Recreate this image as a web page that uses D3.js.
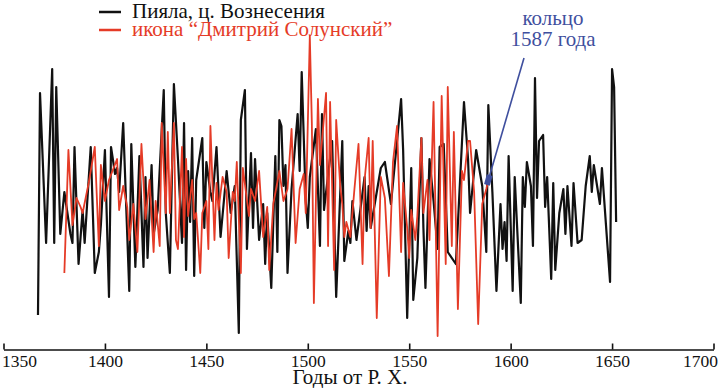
<!DOCTYPE html>
<html>
<head>
<meta charset="utf-8">
<script src="https://cdn.jsdelivr.net/npm/d3@7"></script>
<style>
    body { margin: 0; background: #fff; }
    svg { display: block; font-family: "Liberation Serif", "Times New Roman", serif; }
</style>
</head>
<body>
<script>
// Пияла, ц. Вознесения (black)
var blackYears = [1367, 1368, 1371, 1374, 1375, 1376, 1378, 1380, 1383, 1384, 1385, 1387, 1389, 1390, 1393, 1395, 1397, 1398, 1400,
    1402, 1403, 1405, 1406, 1407, 1409, 1412, 1413, 1415, 1417, 1419, 1420, 1421, 1423, 1424, 1426, 1429, 1430, 1432, 1434, 1436,
    1438, 1439, 1440, 1441, 1442, 1443, 1444, 1445, 1448, 1449, 1450, 1452, 1453, 1455, 1457, 1460, 1462, 1464, 1466, 1467, 1469,
    1470, 1472, 1473, 1474, 1476, 1478, 1479, 1480, 1482, 1484, 1485, 1486, 1487, 1488, 1489, 1490, 1492, 1495, 1496, 1497, 1499,
    1500, 1501, 1504, 1506, 1507, 1508, 1512, 1514, 1517, 1518, 1520, 1521, 1522, 1524, 1528, 1529, 1530, 1531, 1536, 1538, 1541,
    1546, 1547, 1549, 1551, 1552, 1554, 1556, 1557, 1558, 1560, 1562, 1564, 1565, 1567, 1569, 1573, 1577, 1579, 1580, 1583, 1586,
    1588, 1589, 1591, 1593, 1595, 1596, 1597, 1598, 1599, 1601, 1602, 1605, 1606, 1607, 1608, 1610, 1611, 1612, 1613, 1614, 1616,
    1617, 1618, 1620, 1621, 1622, 1624, 1626, 1627, 1628, 1630, 1631, 1633, 1635, 1637, 1639, 1640, 1641, 1644, 1645, 1649, 1650,
    1651, 1652];
var blackValues = [10, 84, 34, 92, 34, 86, 37, 51, 37, 34, 66, 27, 45, 34, 66, 24, 31, 40, 65,
    16, 66, 57, 59, 51, 74, 18, 67, 26, 63, 26, 56, 29, 60, 37, 45, 85, 44, 24, 87, 62,
    34, 74, 25, 58, 41, 69, 23, 55, 69, 39, 61, 51, 48, 66, 36, 58, 44, 53, 4, 75, 85,
    32, 64, 39, 62, 35, 47, 27, 44, 19, 63, 31, 75, 73, 53, 60, 24, 52, 77, 58, 91, 48,
    39, 56, 72, 33, 77, 45, 68, 16, 68, 28, 38, 34, 48, 35, 56, 38, 53, 39, 59, 61, 47,
    82, 65, 9, 59, 15, 29, 69, 39, 19, 62, 48, 32, 66, 67, 31, 27, 81, 62, 44, 65, 53,
    31, 80, 51, 18, 47, 32, 41, 28, 63, 18, 56, 14, 56, 46, 61, 53, 33, 89, 49, 68, 70,
    46, 56, 22, 54, 25, 44, 52, 37, 53, 33, 54, 34, 35, 53, 63, 51, 60, 47, 59, 21, 92,
    86, 41];

// икона "Дмитрий Солунский" (red)
var redYears = [1380, 1382, 1384, 1386, 1388, 1389, 1392, 1395, 1397, 1398, 1400, 1402, 1406, 1407, 1409, 1411, 1412, 1414, 1416,
    1418, 1420, 1422, 1424, 1425, 1427, 1428, 1430, 1431, 1432, 1434, 1435, 1436, 1438, 1439, 1440, 1441, 1443, 1444, 1445, 1447,
    1448, 1450, 1451, 1452, 1454, 1455, 1456, 1458, 1460, 1461, 1463, 1464, 1465, 1467, 1468, 1471, 1472, 1474, 1476, 1478, 1480,
    1481, 1483, 1486, 1488, 1490, 1492, 1494, 1496, 1498, 1499, 1501, 1502, 1503, 1505, 1506, 1509, 1510, 1511, 1513, 1514, 1516,
    1517, 1518, 1519, 1521, 1523, 1525, 1527, 1528, 1530, 1531, 1532, 1534, 1536, 1538, 1540, 1542, 1544, 1546, 1547, 1549, 1550,
    1551, 1553, 1554, 1556, 1557, 1559, 1560, 1562, 1564, 1566, 1568, 1569, 1571, 1572, 1574, 1576, 1577, 1579, 1580, 1582, 1584,
    1586, 1588, 1589];
var redValues = [24, 65, 40, 49, 46, 44, 54, 66, 33, 60, 48, 55, 62, 45, 53, 46, 35, 47, 31,
    67, 42, 55, 31, 48, 33, 74, 44, 71, 44, 74, 35, 32, 66, 36, 62, 43, 55, 42, 44, 24,
    44, 48, 32, 73, 35, 54, 45, 56, 51, 29, 51, 48, 61, 24, 59, 43, 52, 48, 58, 36, 46,
    25, 47, 58, 48, 52, 72, 34, 52, 57, 44, 103, 74, 14, 82, 60, 84, 33, 81, 25, 75, 53,
    47, 36, 41, 36, 52, 67, 27, 55, 69, 39, 68, 9, 56, 49, 23, 61, 73, 31, 54, 39, 29,
    45, 35, 43, 69, 44, 55, 35, 81, 3, 83, 27, 86, 33, 71, 12, 58, 55, 68, 68, 51, 7,
    47, 52, 55];

var tickYears = [1350, 1400, 1450, 1500, 1550, 1600, 1650, 1700];
var legendLabels = ["Пияла,  ц. Вознесения", "икона “Дмитрий Солунский”"];
var legendColors = ["#111111", "#e53b27"];
var noteLines = ["кольцо", "1587 года"];

function init() {
    var w = 718;
    var h = 388;
    var blue = "#3f4f9e";

    var black = blackYears.map(function (d, i) { return { year: d, value: blackValues[i] }; });
    var red = redYears.map(function (d, i) { return { year: d, value: redValues[i] }; });

    var x = d3.scaleLinear()
        .domain([1350, 1700])
        .range([3.5, 713.5]);

    var y = d3.scaleLinear()
        .domain([0, 100])
        .range([345, 45]);

    var line = d3.line()
        .x(function (d) { return x(d.year); })
        .y(function (d) { return y(d.value); });

    var svg = d3.select("body")
        .append("svg")
        .attr("width", w)
        .attr("height", h);

    // series
    svg.append("path")
        .datum(black)
        .attr("fill", "none")
        .attr("stroke", legendColors[0])
        .attr("stroke-width", 2.2)
        .attr("stroke-linejoin", "round")
        .attr("d", line);

    svg.append("path")
        .datum(red)
        .attr("fill", "none")
        .attr("stroke", legendColors[1])
        .attr("stroke-width", 1.8)
        .attr("stroke-linejoin", "round")
        .attr("d", line);

    // x axis, ticks pointing up
    var axis = svg.append("g")
        .attr("transform", "translate(0,349.5)")
        .call(d3.axisBottom(x)
            .tickValues(tickYears)
            .tickFormat(d3.format("d"))
            .tickSizeInner(-6)
            .tickSizeOuter(0));

    axis.select(".domain").attr("stroke", "#111").attr("stroke-width", 1.6);
    axis.selectAll(".tick line").attr("stroke", "#111").attr("stroke-width", 1.6);
    axis.selectAll(".tick text")
        .attr("font-family", "Liberation Serif, serif")
        .attr("font-size", 17.5)
        .attr("fill", "#111")
        .attr("y", 17)
        .attr("dy", null);
    axis.selectAll(".tick text")
        .filter(function (d) { return d === 1350; })
        .attr("text-anchor", "start")
        .attr("x", -2);
    axis.selectAll(".tick text")
        .filter(function (d) { return d === 1700; })
        .attr("text-anchor", "end")
        .attr("x", 4);

    svg.append("text")
        .attr("x", 350)
        .attr("y", 384)
        .attr("text-anchor", "middle")
        .attr("font-size", 21)
        .attr("fill", "#111")
        .text("Годы от Р. Х.");

    // legend
    var legend = svg.selectAll(".legend")
        .data(legendLabels)
        .enter()
        .append("g")
        .attr("class", "legend")
        .attr("transform", function (d, i) { return "translate(99," + (18 + i * 18) + ")"; });

    legend.append("line")
        .attr("x1", 0)
        .attr("x2", 22)
        .attr("y1", -6)
        .attr("y2", -6)
        .attr("stroke", function (d, i) { return legendColors[i]; })
        .attr("stroke-width", 2.5);

    legend.append("text")
        .attr("x", 33)
        .attr("font-size", 21)
        .attr("fill", function (d, i) { return legendColors[i]; })
        .text(function (d) { return d; });

    // annotation for the ring of 1587
    var last = red[red.length - 1];
    var px = x(last.year);
    var py = y(last.value);
    var tx = 524;
    var ty = 58;
    var angle = Math.atan2(ty - py, tx - px) * 180 / Math.PI;

    svg.append("line")
        .attr("x1", px)
        .attr("y1", py)
        .attr("x2", tx)
        .attr("y2", ty)
        .attr("stroke", blue)
        .attr("stroke-width", 1.6);

    svg.append("rect")
        .attr("x", -5)
        .attr("y", -3)
        .attr("width", 10)
        .attr("height", 6)
        .attr("fill", blue)
        .attr("transform", "translate(" + px + "," + py + ") rotate(" + angle + ")");

    svg.selectAll(".note")
        .data(noteLines)
        .enter()
        .append("text")
        .attr("class", "note")
        .attr("x", 553)
        .attr("y", function (d, i) { return 25 + i * 21; })
        .attr("text-anchor", "middle")
        .attr("font-size", 21)
        .attr("fill", blue)
        .text(function (d) { return d; });
}

window.onload = init;
</script>
</body>
</html>
